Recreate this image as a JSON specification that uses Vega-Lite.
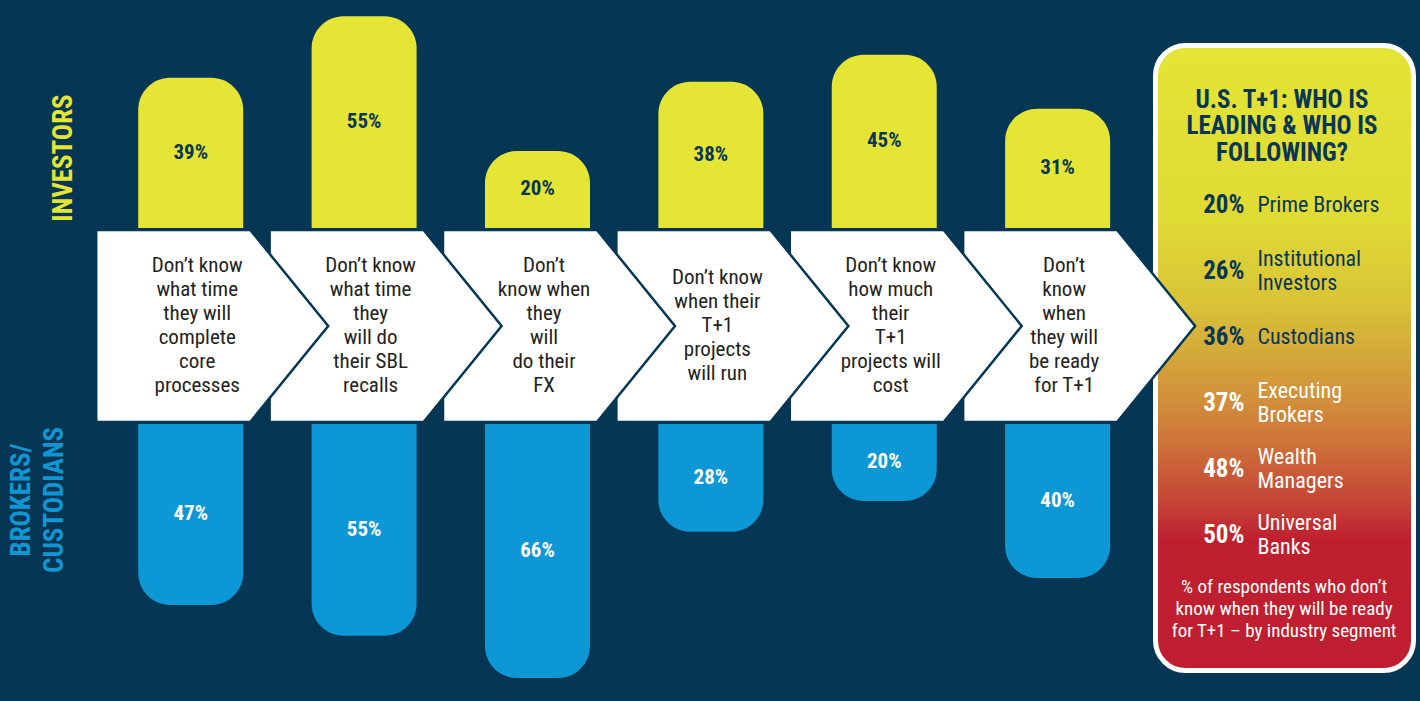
{
  "$schema": "https://vega.github.io/schema/vega-lite/v6.json",
  "width": 1420,
  "height": 701,
  "autosize": {"type": "none"},
  "padding": 0,
  "background": "#053654",
  "config": {"view": {"stroke": null}},
  "datasets": {
    "steps": [
      {"step": 1, "investors": 39, "brokers": 47, "label": "Don’t know\nwhat time\nthey will\ncomplete\ncore\nprocesses"},
      {"step": 2, "investors": 55, "brokers": 55, "label": "Don’t know\nwhat time\nthey\nwill do\ntheir SBL\nrecalls"},
      {"step": 3, "investors": 20, "brokers": 66, "label": "Don’t\nknow when\nthey\nwill\ndo their\nFX"},
      {"step": 4, "investors": 38, "brokers": 28, "label": "Don’t know\nwhen their\nT+1\nprojects\nwill run"},
      {"step": 5, "investors": 45, "brokers": 20, "label": "Don’t know\nhow much\ntheir\nT+1\nprojects will\ncost"},
      {"step": 6, "investors": 31, "brokers": 40, "label": "Don’t\nknow\nwhen\nthey will\nbe ready\nfor T+1"}
    ],
    "segments": [
      {"rank": 1, "pct": 20, "segment": "Prime Brokers"},
      {"rank": 2, "pct": 26, "segment": "Institutional\nInvestors"},
      {"rank": 3, "pct": 36, "segment": "Custodians"},
      {"rank": 4, "pct": 37, "segment": "Executing\nBrokers"},
      {"rank": 5, "pct": 48, "segment": "Wealth\nManagers"},
      {"rank": 6, "pct": 50, "segment": "Universal\nBanks"}
    ]
  },
  "resolve": {"scale": {"y": "independent"}},
  "layer": [
    {
      "data": {"values": [{}]},
      "mark": {
        "type": "rect",
        "fill": {
          "gradient": "linear", "x1": 0, "y1": 0, "x2": 0, "y2": 1,
          "stops": [
            {"offset": 0, "color": "#e3e535"},
            {"offset": 0.28, "color": "#e0da35"},
            {"offset": 0.41, "color": "#d9c437"},
            {"offset": 0.47, "color": "#d5b03a"},
            {"offset": 0.57, "color": "#d28e3a"},
            {"offset": 0.65, "color": "#cc6c39"},
            {"offset": 0.73, "color": "#c54436"},
            {"offset": 0.79, "color": "#bf2030"},
            {"offset": 1, "color": "#be1e2f"}
          ]
        },
        "stroke": "#ffffff",
        "strokeWidth": 5,
        "cornerRadius": 30
      },
      "encoding": {
        "x": {"datum": 6.5645, "type": "quantitative", "scale": {"domain": [-0.1, 8.09], "nice": false, "zero": false, "padding": 0}, "axis": null},
        "x2": {"datum": 8.0526},
        "y": {"datum": 47.4, "type": "quantitative", "scale": {"domain": [-122.86, 59.22], "nice": false, "zero": false}, "axis": null},
        "y2": {"datum": -114.94}
      }
    },
    {
      "data": {"name": "steps"},
      "mark": {"type": "bar", "orient": "vertical", "width": 105, "color": "#e4e535", "cornerRadiusTopLeft": 32, "cornerRadiusTopRight": 32},
      "encoding": {
        "x": {"field": "step", "type": "quantitative", "scale": {"domain": [-0.1, 8.09], "nice": false, "zero": false, "padding": 0}, "axis": null},
        "y": {"field": "investors", "type": "quantitative", "scale": {"domain": [-122.86, 59.22], "nice": false, "zero": false}, "axis": null},
        "y2": {"datum": 0}
      }
    },
    {
      "data": {"name": "steps"},
      "mark": {"type": "bar", "orient": "vertical", "width": 105, "color": "#0e97d5", "cornerRadiusBottomLeft": 32, "cornerRadiusBottomRight": 32},
      "encoding": {
        "x": {"field": "step", "type": "quantitative", "scale": {"domain": [-0.1, 8.09], "nice": false, "zero": false, "padding": 0}, "axis": null},
        "y": {"field": "brokers", "type": "quantitative", "scale": {"domain": [-110.13, 71.95], "reverse": true, "nice": false, "zero": false}, "axis": null},
        "y2": {"datum": 0}
      }
    },
    {
      "data": {"name": "steps"},
      "mark": {
        "type": "point",
        "shape": "M-0.945,-0.96 L0.595,-0.96 L1.375,0 L0.595,0.96 L-0.945,0.96 Z",
        "size": 40000,
        "filled": true,
        "fill": "#ffffff",
        "stroke": "#053654",
        "strokeWidth": 2.5,
        "strokeJoin": "miter",
        "opacity": 1
      },
      "encoding": {
        "x": {"field": "step", "type": "quantitative", "scale": {"domain": [-0.1, 8.09], "nice": false, "zero": false, "padding": 0}, "axis": null},
        "y": {"datum": -25.45, "type": "quantitative", "scale": {"domain": [-122.86, 59.22], "nice": false, "zero": false}, "axis": null},
        "order": {"field": "step", "type": "quantitative", "sort": "descending"}
      }
    },
    {
      "data": {"name": "steps"},
      "mark": {"type": "text", "lineBreak": "\n", "lineHeight": 24, "fontSize": 21, "font": "Liberation Sans Narrow, Roboto Condensed, DejaVu Sans Condensed, sans-serif", "color": "#231f20", "align": "center", "baseline": "middle", "dx": 6.5, "dy": {"expr": "-(length(split(datum.label, '\\n')) - 1) * 12"}},
      "encoding": {
        "x": {"field": "step", "type": "quantitative", "scale": {"domain": [-0.1, 8.09], "nice": false, "zero": false, "padding": 0}, "axis": null},
        "y": {"datum": -25.45, "type": "quantitative", "scale": {"domain": [-122.86, 59.22], "nice": false, "zero": false}, "axis": null},
        "text": {"field": "label", "type": "nominal"}
      }
    },
    {
      "data": {"name": "steps"},
      "mark": {"type": "text", "text": {"expr": "datum.investors + '%'"}, "fontSize": 21, "fontWeight": "bold", "font": "Liberation Sans Narrow, Roboto Condensed, DejaVu Sans Condensed, sans-serif", "color": "#0a3656", "align": "center", "baseline": "middle"},
      "encoding": {
        "x": {"field": "step", "type": "quantitative", "scale": {"domain": [-0.1, 8.09], "nice": false, "zero": false, "padding": 0}, "axis": null},
        "y": {"field": "investors", "type": "quantitative", "scale": {"domain": [-245.72, 118.44], "nice": false, "zero": false}, "axis": null}
      }
    },
    {
      "data": {"name": "steps"},
      "mark": {"type": "text", "text": {"expr": "datum.brokers + '%'"}, "fontSize": 21, "fontWeight": "bold", "font": "Liberation Sans Narrow, Roboto Condensed, DejaVu Sans Condensed, sans-serif", "color": "#ffffff", "align": "center", "baseline": "middle"},
      "encoding": {
        "x": {"field": "step", "type": "quantitative", "scale": {"domain": [-0.1, 8.09], "nice": false, "zero": false, "padding": 0}, "axis": null},
        "y": {"field": "brokers", "type": "quantitative", "scale": {"domain": [-220.26, 143.9], "reverse": true, "nice": false, "zero": false}, "axis": null}
      }
    },
    {
      "data": {"values": [{}]},
      "mark": {"type": "text", "text": "INVESTORS", "angle": 270, "fontSize": 27, "fontWeight": "bold", "font": "Liberation Sans Narrow, Roboto Condensed, DejaVu Sans Condensed, sans-serif", "color": "#e4e535", "align": "center", "baseline": "middle"},
      "encoding": {
        "x": {"datum": 0.269, "type": "quantitative", "scale": {"domain": [-0.1, 8.09], "nice": false, "zero": false, "padding": 0}, "axis": null},
        "y": {"datum": 18.18, "type": "quantitative", "scale": {"domain": [-122.86, 59.22], "nice": false, "zero": false}, "axis": null}
      }
    },
    {
      "data": {"values": [{}]},
      "mark": {"type": "text", "text": "BROKERS/\nCUSTODIANS", "lineBreak": "\n", "lineHeight": 33, "angle": 270, "fontSize": 27, "fontWeight": "bold", "font": "Liberation Sans Narrow, Roboto Condensed, DejaVu Sans Condensed, sans-serif", "color": "#1195d3", "align": "center", "baseline": "middle"},
      "encoding": {
        "x": {"datum": 0.025, "type": "quantitative", "scale": {"domain": [-0.1, 8.09], "nice": false, "zero": false, "padding": 0}, "axis": null},
        "y": {"datum": -70.65, "type": "quantitative", "scale": {"domain": [-122.86, 59.22], "nice": false, "zero": false}, "axis": null}
      }
    },
    {
      "data": {"values": [{}]},
      "mark": {"type": "text", "text": "U.S. T+1: WHO IS\nLEADING & WHO IS\nFOLLOWING?", "lineBreak": "\n", "lineHeight": 26.5, "fontSize": 25, "fontWeight": "bold", "font": "Liberation Sans Narrow, Roboto Condensed, DejaVu Sans Condensed, sans-serif", "color": "#0a3656", "align": "center", "baseline": "middle", "dy": -26.5},
      "encoding": {
        "x": {"datum": 7.294, "type": "quantitative", "scale": {"domain": [-0.1, 8.09], "nice": false, "zero": false, "padding": 0}, "axis": null},
        "y": {"datum": 26.49, "type": "quantitative", "scale": {"domain": [-122.86, 59.22], "nice": false, "zero": false}, "axis": null}
      }
    },
    {
      "data": {"name": "segments"},
      "mark": {"type": "text", "text": {"expr": "datum.pct + '%'"}, "fontSize": 25, "fontWeight": "bold", "font": "Liberation Sans Narrow, Roboto Condensed, DejaVu Sans Condensed, sans-serif", "align": "right", "baseline": "middle", "dx": -6},
      "encoding": {
        "x": {"datum": 7.112, "type": "quantitative", "scale": {"domain": [-0.1, 8.09], "nice": false, "zero": false, "padding": 0}, "axis": null},
        "y": {"field": "rank", "type": "quantitative", "scale": {"domain": [-2.106, 8.515], "reverse": true, "nice": false, "zero": false}, "axis": null},
        "color": {"condition": {"test": "datum.rank <= 3", "value": "#0a3656"}, "value": "#ffffff"}
      }
    },
    {
      "data": {"name": "segments"},
      "mark": {"type": "text", "lineBreak": "\n", "lineHeight": 24, "fontSize": 22, "font": "Liberation Sans Narrow, Roboto Condensed, DejaVu Sans Condensed, sans-serif", "align": "left", "baseline": "middle", "dx": 7, "dy": {"expr": "-(length(split(datum.segment, '\\n')) - 1) * 12"}},
      "encoding": {
        "x": {"datum": 7.112, "type": "quantitative", "scale": {"domain": [-0.1, 8.09], "nice": false, "zero": false, "padding": 0}, "axis": null},
        "y": {"field": "rank", "type": "quantitative", "scale": {"domain": [-2.106, 8.515], "reverse": true, "nice": false, "zero": false}, "axis": null},
        "text": {"field": "segment", "type": "nominal"},
        "color": {"condition": {"test": "datum.rank <= 3", "value": "#0a3656"}, "value": "#ffffff"}
      }
    },
    {
      "data": {"values": [{}]},
      "mark": {"type": "text", "text": "% of respondents who don’t\nknow when they will be ready\nfor T+1 – by industry segment", "lineBreak": "\n", "lineHeight": 22, "fontSize": 19, "font": "Liberation Sans Narrow, Roboto Condensed, DejaVu Sans Condensed, sans-serif", "color": "#ffffff", "align": "center", "baseline": "middle", "dy": -22},
      "encoding": {
        "x": {"datum": 7.306, "type": "quantitative", "scale": {"domain": [-0.1, 8.09], "nice": false, "zero": false, "padding": 0}, "axis": null},
        "y": {"datum": -98.96, "type": "quantitative", "scale": {"domain": [-122.86, 59.22], "nice": false, "zero": false}, "axis": null}
      }
    }
  ]
}
